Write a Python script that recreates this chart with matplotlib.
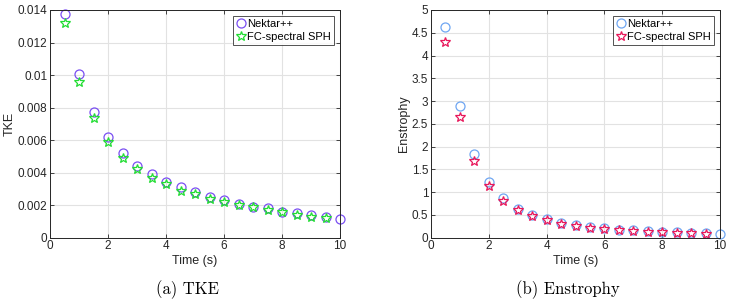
import numpy as np
import matplotlib
matplotlib.use('Agg')
import matplotlib.pyplot as plt

plt.rcParams['font.family'] = ['Liberation Sans', 'DejaVu Sans']

t_nek = [0.5, 1, 1.5, 2, 2.5, 3, 3.5, 4, 4.5, 5, 5.5, 6, 6.5, 7, 7.5, 8, 8.5, 9, 9.5, 10]
t_sph = [0.5, 1, 1.5, 2, 2.5, 3, 3.5, 4, 4.5, 5, 5.5, 6, 6.5, 7, 7.5, 8, 8.5, 9, 9.5]

tke_nek = [0.01375, 0.01005, 0.0077, 0.0062, 0.0052, 0.0044, 0.0039, 0.0034, 0.0031, 0.0028,
           0.0025, 0.0023, 0.0021, 0.0019, 0.0018, 0.0016, 0.0015, 0.0014, 0.0013, 0.00118]
tke_sph = [0.0132, 0.0096, 0.00735, 0.0059, 0.0049, 0.0042, 0.0037, 0.0033, 0.0029, 0.0027,
           0.0024, 0.0022, 0.0020, 0.0019, 0.0017, 0.0016, 0.0014, 0.0013, 0.0012]

ens_nek = [4.63, 2.9, 1.83, 1.22, 0.87, 0.64, 0.5, 0.4, 0.33, 0.28,
           0.24, 0.21, 0.18, 0.16, 0.14, 0.13, 0.12, 0.11, 0.10, 0.09]
ens_sph = [4.29, 2.65, 1.68, 1.13, 0.8, 0.6, 0.47, 0.38, 0.31, 0.26,
           0.22, 0.19, 0.17, 0.15, 0.13, 0.12, 0.11, 0.10, 0.09]

fig = plt.figure(figsize=(7.33, 3.04), dpi=100)
ax1 = fig.add_axes([50/733, 1-237.7/304, 290/733, 227.7/304])
ax2 = fig.add_axes([431/733, 1-237.7/304, 289/733, 227.7/304])


def style(ax, ylim, yticks, yticklabels, ylabel):
    ax.set_xlim(0, 10)
    ax.set_ylim(*ylim)
    ax.set_xticks([0, 2, 4, 6, 8, 10])
    ax.set_yticks(yticks)
    ax.set_yticklabels(yticklabels)
    ax.grid(True, color='#e2e2e2', linewidth=0.8)
    ax.set_axisbelow(True)
    ax.tick_params(direction='in', top=True, right=True, labelsize=8.5,
                   colors='#262626', length=3, width=0.6, pad=2)
    for s in ax.spines.values():
        s.set_color('#262626')
        s.set_linewidth(0.7)
    ax.set_xlabel('Time (s)', fontsize=9, color='#262626', labelpad=2)
    ax.set_ylabel(ylabel, fontsize=9, color='#262626', labelpad=1)


ax1.plot(t_nek, tke_nek, 'o', mfc='none', mec='#7a4ff2', ms=6.5, mew=0.9, label='Nektar++', clip_on=False)
ax1.plot(t_sph, tke_sph, '*', mfc='none', mec='#22dd33', ms=7.5, mew=0.9, label='FC-spectral SPH', clip_on=False)
style(ax1, (0, 0.014), [0, 0.002, 0.004, 0.006, 0.008, 0.01, 0.012, 0.014],
      ['0', '0.002', '0.004', '0.006', '0.008', '0.01', '0.012', '0.014'], 'TKE')

ax2.plot(t_nek, ens_nek, 'o', mfc='none', mec='#6fa6f2', ms=6.5, mew=0.9, label='Nektar++', clip_on=False)
ax2.plot(t_sph, ens_sph, '*', mfc='none', mec='#e8175a', ms=7.5, mew=0.9, label='FC-spectral SPH', clip_on=False)
style(ax2, (0, 5), np.arange(0, 5.01, 0.5),
      ['0', '0.5', '1', '1.5', '2', '2.5', '3', '3.5', '4', '4.5', '5'], 'Enstrophy')

for ax in (ax1, ax2):
    leg = ax.legend(loc='upper right', fontsize=8, frameon=True, fancybox=False,
                    edgecolor='#262626', handlelength=0.8, handletextpad=0.2,
                    borderpad=0.3, labelspacing=0.25, borderaxespad=0.5)
    leg.get_frame().set_linewidth(0.7)

fig.text(188/733, 1-290/304, '(a) TKE', ha='center', va='center', fontsize=12, family='cmr10')
fig.text(568/733, 1-290/304, '(b) Enstrophy', ha='center', va='center', fontsize=12, family='cmr10')

fig.savefig('out.png', dpi=100)
